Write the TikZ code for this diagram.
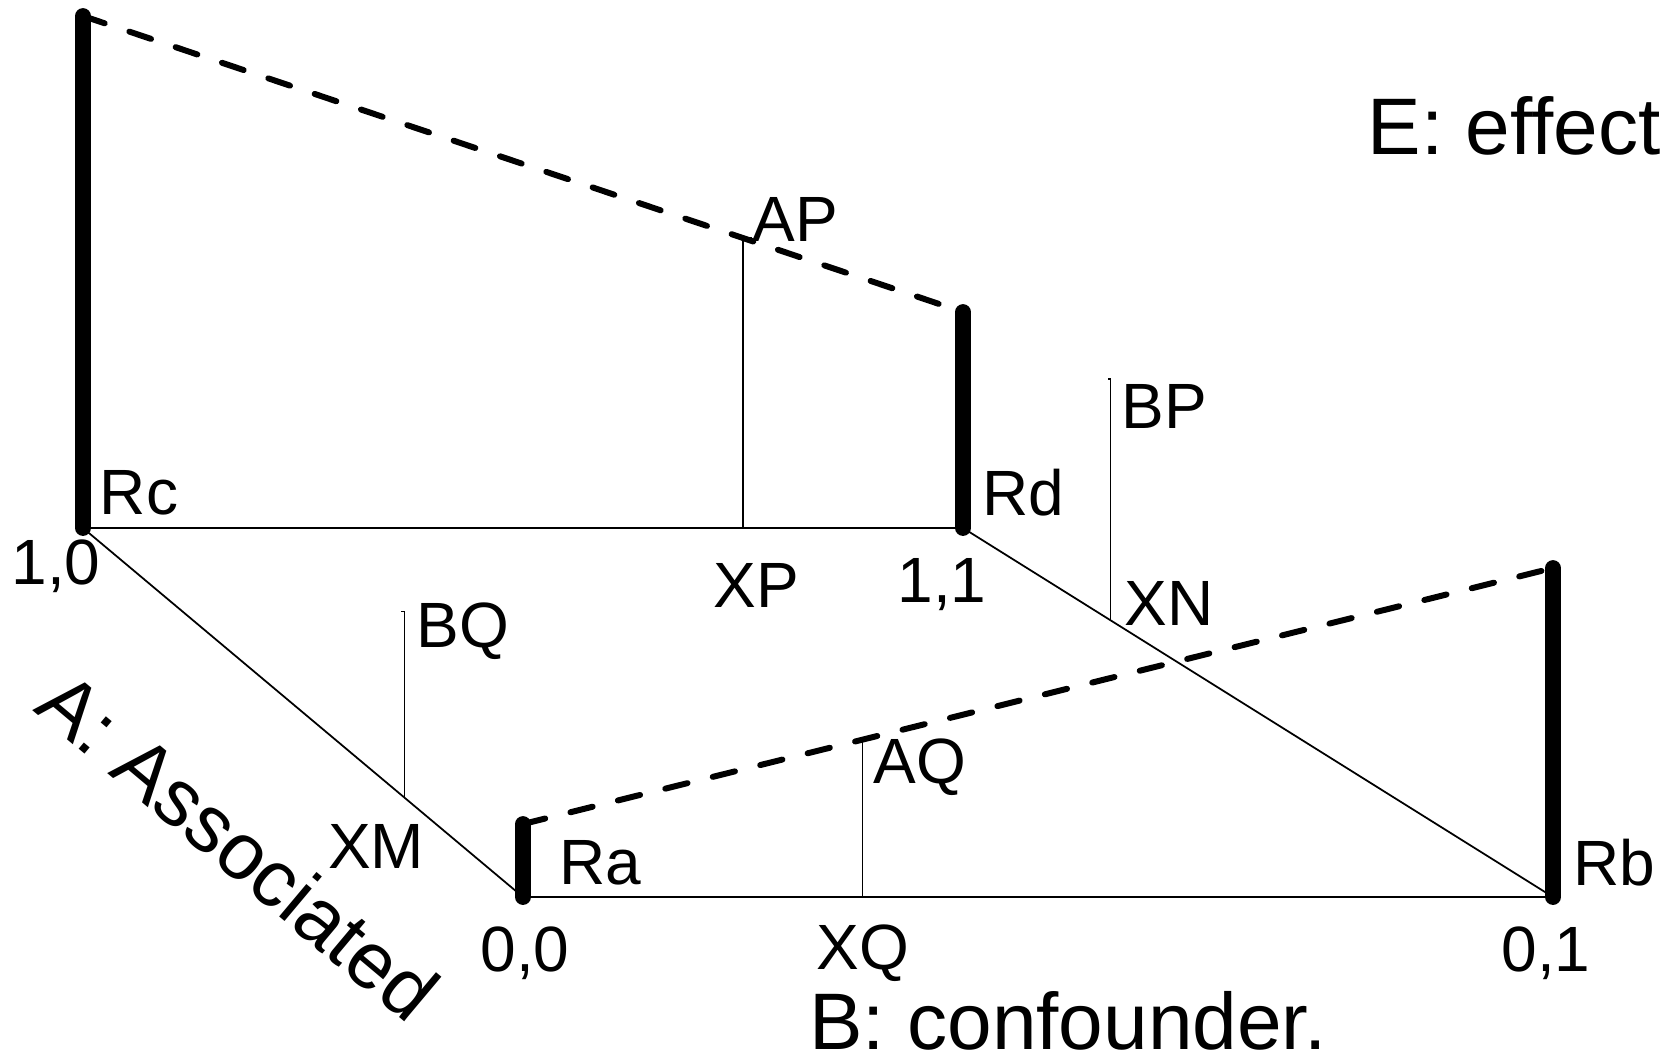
\documentclass[tikz,border=0pt]{standalone}
\usepackage{fontspec}
\setmainfont{Liberation Sans}
\usetikzlibrary{calc}
\begin{document}
\begin{tikzpicture}[x=0.01cm, y=-0.01cm,
    lab/.style={inner sep=0pt, font=\fontsize{18.2}{20}\selectfont},
    biglab/.style={inner sep=0pt, font=\fontsize{22.8}{26}\selectfont},
    edge/.style={line width=0.5pt},
    probe/.style={line width=0.3pt},
    riskbar/.style={line width=4.5pt, line cap=round},
    riskline/.style={line width=1.7pt, dash pattern=on 6.5pt off 7.4pt, line cap=round}]
  \useasboundingbox (0,0) rectangle (1674,1059);
  % corners of the base
  \coordinate (c10) at (83,528);
  \coordinate (c11) at (963,528);
  \coordinate (c00) at (523,897);
  \coordinate (c01) at (1553,897);
  % tops of the risk bars
  \coordinate (rc) at (83,16);
  \coordinate (rd) at (963,312);
  \coordinate (ra) at (523,824);
  \coordinate (rb) at (1553,568);
  % points on the edges
  \coordinate (ap) at ($(rc)!0.75!(rd)$);
  \coordinate (xp) at (ap |- c10);
  \coordinate (aq) at ($(ra)!0.33!(rb)$);
  \coordinate (xq) at (aq |- c00);
  \coordinate (xm) at ($(c10)!0.73!(c00)$);
  \coordinate (bq) at (xm |- 0,611);
  \coordinate (xn) at ($(c11)!0.25!(c01)$);
  \coordinate (bp) at (xn |- 0,379);

  \draw[edge] (c10) -- (c11) -- (c01) -- (c00) -- cycle;
  \draw[probe] (xp) -- (ap) -- ++(9,0);
  \draw[probe] (xq) -- (aq) -- ++(9,0);
  \draw[probe] (xm) -- (bq) -- ++(-3,0);
  \draw[probe] (xn) -- (bp) -- ++(-3,0);
  \draw[riskline] (rc) -- (rd);
  \draw[riskline] (ra) -- (rb);
  \draw[riskbar] (c10) -- (rc);
  \draw[riskbar] (c11) -- (rd);
  \draw[riskbar] (c00) -- (ra);
  \draw[riskbar] (c01) -- (rb);

  \node[lab] (l10) at (56,566) {1,0};
  \node[lab] (l11) at (942,585) {1,1};
  \node[lab] (l00) at (525,953) {0,0};
  \node[lab] (l01) at (1546,953) {0,1};
  \node[lab] (lrc) at (139,493) {Rc};
  \node[lab] (lrd) at (1023,493) {Rd};
  \node[lab] (lra) at (600,863) {Ra};
  \node[lab] (lrb) at (1614,863) {Rb};
  \node[lab] (lap) at (795,219) {AP};
  \node[lab] (lxp) at (756,585) {XP};
  \node[lab] (laq) at (920,767) {AQ};
  \node[lab] (lxq) at (863,953) {XQ};
  \node[lab] (lbq) at (463,631) {BQ};
  \node[lab] (lxm) at (376,846) {XM};
  \node[lab] (lbp) at (1164,406) {BP};
  \node[lab] (lxn) at (1169,603) {XN};
  \node[biglab] (eff) at (1514,126) {E: effect};
  \node[biglab] (conf) at (1068,1021) {B: confounder.};
  \node[biglab, rotate=-40] (assoc) at (239,846) {A: Associated};
\end{tikzpicture}
\end{document}
